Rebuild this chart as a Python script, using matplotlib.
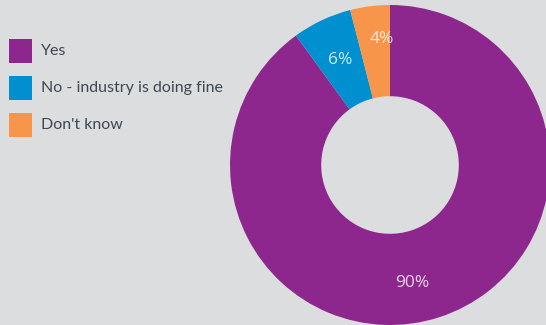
import numpy as np
import matplotlib
matplotlib.use("Agg")
import matplotlib.pyplot as plt
from matplotlib.patches import Rectangle

# Survey answers
categories = ["Yes", "No - industry is doing fine", "Don't know"]
shares = [90, 6, 4]
colors = ["#8e278d", "#0090d0", "#f7964a"]
labels = ["90%", "6%", "4%"]

BG = "#dcdddf"
W, H = 546, 325
fig = plt.figure(figsize=(W / 100, H / 100), dpi=100, facecolor=BG)

# Donut axes placed in pixel units
cx, cy, r = 390, 165, 160
ax = fig.add_axes([(cx - r) / W, (H - cy - r) / H, 2 * r / W, 2 * r / H])
ax.set_facecolor(BG)
wedges, _ = ax.pie(shares, colors=colors, startangle=90, counterclock=False,
                   radius=1.0, wedgeprops=dict(width=0.57, linewidth=0))
ax.set_xlim(-1, 1)
ax.set_ylim(-1, 1)
ax.set_aspect("equal")
ax.axis("off")

# Percentage labels inside the ring: (radius, offset along the wedge span)
label_pos = {"90%": (0.75, -0.022), "6%": (0.725, 0.0), "4%": (0.79, -0.25)}
start = 90.0
for lab, s in zip(labels, shares):
    span = 360.0 * s / sum(shares)
    mid = start - span / 2
    rr, shift = label_pos[lab]
    ang = np.deg2rad(mid + shift * span)
    ax.text(rr * np.cos(ang), rr * np.sin(ang), lab, ha="center", va="center",
            color="white", alpha=0.8, fontsize=12.5, family="Open Sans")
    start -= span

# Legend drawn with squares and text
for i, (cat, col) in enumerate(zip(categories, colors)):
    y_top = 39 + i * 37
    fig.patches.append(Rectangle((9 / W, 1 - (y_top + 24) / H), 23 / W, 24 / H,
                                 transform=fig.transFigure, facecolor=col,
                                 edgecolor="none"))
    fig.text(41 / W, 1 - (y_top + 12) / H, cat, ha="left", va="center",
             color="#3d4852", fontsize=11.5, family="Lato")

fig.savefig("out.png", dpi=100, facecolor=BG)
